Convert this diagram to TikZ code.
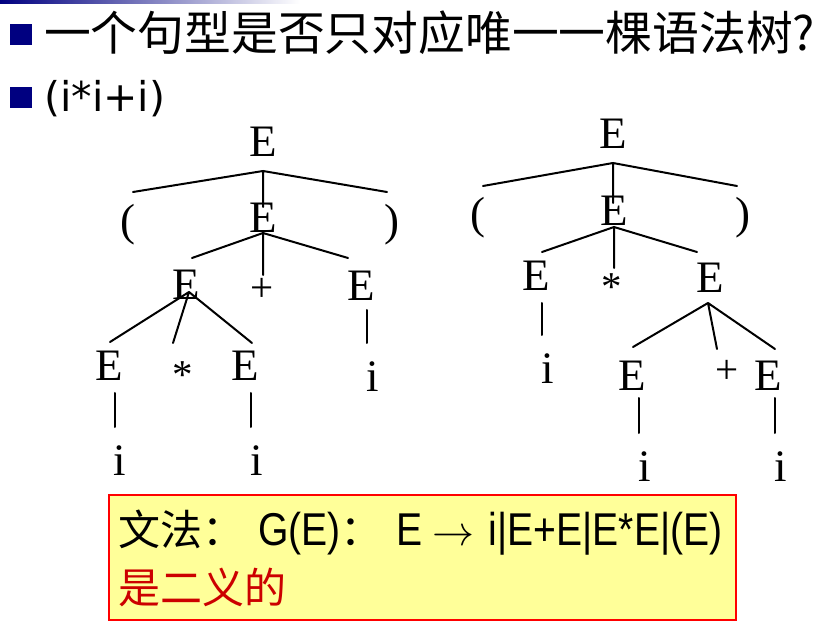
\documentclass[tikz,border=0pt]{standalone}
\usepackage{fontspec}
\usepackage{graphicx}
\setmainfont{Liberation Serif}
\newfontfamily\cjk{Noto Sans CJK SC}
\newfontfamily\dsans{DejaVu Sans}
\newfontfamily\nsans[FakeStretch=0.85]{Liberation Sans}
\usetikzlibrary{shadings}
\definecolor{navy}{HTML}{000080}
\definecolor{boxfill}{HTML}{FFFF99}
\definecolor{ambred}{HTML}{CC0000}
\begin{document}
\begin{tikzpicture}[x=1pt,y=-1pt,
  tl/.style={inner sep=0pt,font=\fontsize{45}{45}\selectfont},
  ts/.style={inner sep=0pt,font=\fontsize{41}{41}\selectfont},
  edge/.style={line width=2pt,line cap=round},
  bullet/.style={fill=navy,draw=none}]
\useasboundingbox (0,0) rectangle (825,628);
\fill[white] (0,0) rectangle (825,628);
% top bar
\shade[left color=navy,right color=white] (0,0) rectangle (300,4);
% bullets
\fill[bullet] (10,24) rectangle (32,45);
\fill[bullet] (10,87) rectangle (32,108);
\node[anchor=west,inner sep=0pt,font=\cjk\fontsize{46.8}{46.8}\selectfont] (title) at (44,33) {一个句型是否只对应唯一一棵语法树?};
\node[anchor=west,inner sep=0pt,font=\dsans\fontsize{41}{41}\selectfont] (expr) at (44,99) {(i*i+i)};

% ---------- left tree ----------
\node[tl] (l0) at (263,142) {E};
\coordinate (la) at (263,171);
\coordinate (la1) at (133,192);
\coordinate (la2) at (387,192);
\coordinate (la3) at (263,207);
\node[tl] (lp1) at (128,225) {(};
\node[tl] (l1) at (263,218) {E};
\node[tl] (lp2) at (392,225) {)};
\coordinate (lb) at (263,233);
\coordinate (lb1) at (192,258);
\coordinate (lb2) at (348,258);
\coordinate (lb3) at (263,275);
\node[tl] (l2) at (186,285) {E};
\node[ts] (lplus) at (262,290) {+};
\node[tl] (l3) at (361,286) {E};
\coordinate (lc) at (189,292);
\coordinate (lc1) at (110,342);
\coordinate (lc2) at (173,343);
\coordinate (lc3) at (252,343);
\node[tl] (l4) at (109,366) {E};
\node[ts] (lstar) at (183,375) {*};
\node[tl] (l5) at (245,366) {E};
\coordinate (ld1) at (115,393); \coordinate (ld2) at (115,427);
\coordinate (le1) at (251,393); \coordinate (le2) at (251,427);
\node[tl] (li1) at (120,461) {i};
\node[tl] (li2) at (257,461) {i};
\coordinate (lf1) at (367,310); \coordinate (lf2) at (367,343);
\node[tl] (li3) at (373,377) {i};
\draw[edge] (la) -- (la1) (la) -- (la2) (la) -- (la3);
\draw[edge] (lb) -- (lb1) (lb) -- (lb2) (lb) -- (lb3);
\draw[edge] (lc) -- (lc1) (lc) -- (lc2) (lc) -- (lc3);
\draw[edge] (ld1) -- (ld2) (le1) -- (le2) (lf1) -- (lf2);

% ---------- right tree ----------
\node[tl] (r0) at (613,134) {E};
\coordinate (ra) at (613,163);
\coordinate (ra1) at (483,186);
\coordinate (ra2) at (737,186);
\coordinate (ra3) at (613,203);
\node[tl] (rp1) at (478,218) {(};
\node[tl] (r1) at (614,211) {E};
\node[tl] (rp2) at (743,218) {)};
\coordinate (rb) at (614,227);
\coordinate (rb1) at (542,252);
\coordinate (rb2) at (697,252);
\coordinate (rb3) at (614,268);
\node[tl] (r2) at (536,276) {E};
\node[ts] (rstar) at (612,287) {*};
\node[tl] (r3) at (710,278) {E};
\coordinate (rd1) at (542,303); \coordinate (rd2) at (542,335);
\node[tl] (ri1) at (548,369) {i};
\coordinate (rc) at (708,303);
\coordinate (rc1) at (633,347);
\coordinate (rc2) at (717,349);
\coordinate (rc3) at (775,349);
\node[tl] (r4) at (632,376) {E};
\node[ts] (rplus) at (727,372) {+};
\node[tl] (r5) at (768,376) {E};
\coordinate (re1) at (639,398); \coordinate (re2) at (639,433);
\coordinate (rf1) at (775,398); \coordinate (rf2) at (775,433);
\node[tl] (ri2) at (645,467) {i};
\node[tl] (ri3) at (781,467) {i};
\draw[edge] (ra) -- (ra1) (ra) -- (ra2) (ra) -- (ra3);
\draw[edge] (rb) -- (rb1) (rb) -- (rb2) (rb) -- (rb3);
\draw[edge] (rc) -- (rc1) (rc) -- (rc2) (rc) -- (rc3);
\draw[edge] (rd1) -- (rd2) (re1) -- (re2) (rf1) -- (rf2);

% ---------- grammar box ----------
\draw[draw=red,fill=boxfill,line width=1.8pt] (109,495) rectangle (736,620);
\node[anchor=base west,inner sep=0pt] (gram) at (118,545)
  {{\cjk\fontsize{42}{42}\selectfont 文法：}\hspace{14pt}{\nsans\fontsize{46}{46}\selectfont G(E)}{\cjk\fontsize{42}{42}\selectfont ：}\hspace{14pt}{\nsans\fontsize{46}{46}\selectfont E}\hspace{10pt}\scalebox{4.2}{$\rightarrow$}\hspace{14pt}{\nsans\fontsize{46}{46}\selectfont i|E+E|E*E|(E)}};
\node[anchor=base west,inner sep=0pt,text=ambred,font=\cjk\fontsize{42}{42}\selectfont] (amb) at (118,603) {是二义的};
\end{tikzpicture}
\end{document}
